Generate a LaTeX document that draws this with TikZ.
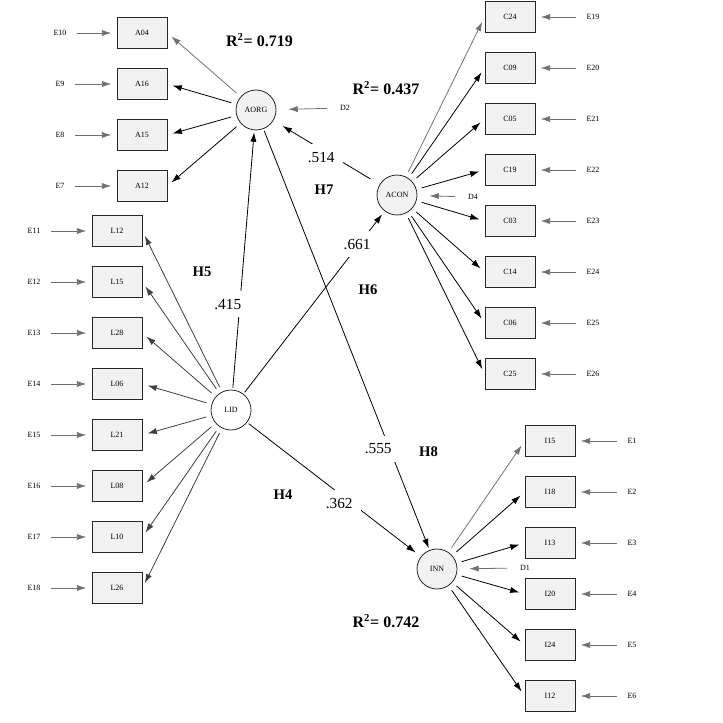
\documentclass[tikz,border=0pt]{standalone}
\usepackage{fontspec}
\setmainfont{Liberation Serif}
\usetikzlibrary{arrows.meta}
\definecolor{boxfill}{HTML}{F2F2F2}
\definecolor{errgray}{HTML}{707070}
\newcommand{\smallfont}{\fontsize{6}{7}\selectfont}
\newcommand{\coeffont}{\fontsize{11.5}{13}\selectfont}

\begin{document}
\begin{tikzpicture}[->, >={Latex[length=7pt,width=4.6pt]}, x=0.75pt, y=-0.75pt, node distance=38.25pt, line width=0.6pt,
  ind/.style={draw=black!85, fill=boxfill, minimum width=37.5pt, minimum height=23pt, inner sep=0pt, font=\smallfont},
  lat/.style={circle, draw=black!85, fill=boxfill, minimum size=30pt, inner sep=0pt, font=\smallfont},
  err/.style={font=\smallfont, inner sep=1pt},
  errline/.style={errgray, shorten <=6.5pt, shorten >=4pt},
  dline/.style={errgray, shorten <=8.5pt, shorten >=9pt},
  load/.style={shorten <=4pt, shorten >=4pt},
  firstload/.style={load, black!55},
  lidload/.style={load, black!75},
  struct/.style={shorten <=1.5pt, shorten >=1.5pt},
  coef/.style={fill=white, font=\coeffont, inner sep=6pt},
  hyp/.style={font=\fontsize{11}{13}\selectfont\bfseries},
  rsq/.style={font=\fontsize{12}{14}\selectfont\bfseries}]
%
\useasboundingbox (0,0) rectangle (723,723);
%
\node (AORG) [lat] at (256,110) {AORG};
\node (ACON) [lat] at (397,195) {ACON};
\node (LID) [lat, fill=white] at (231,410) {LID};
\node (INN) [lat] at (437,569) {INN};
%
\node (A04) [ind] at (142,33) {A04};
\node (A16) [ind, below of=A04] {A16};
\node (A15) [ind, below of=A16] {A15};
\node (A12) [ind, below of=A15] {A12};
%
\node (C24) [ind] at (510,17) {C24};
\node (C09) [ind, below of=C24] {C09};
\node (C05) [ind, below of=C09] {C05};
\node (C19) [ind, below of=C05] {C19};
\node (C03) [ind, below of=C19] {C03};
\node (C14) [ind, below of=C03] {C14};
\node (C06) [ind, below of=C14] {C06};
\node (C25) [ind, below of=C06] {C25};
%
\node (L12) [ind] at (117,231) {L12};
\node (L15) [ind, below of=L12] {L15};
\node (L28) [ind, below of=L15] {L28};
\node (L06) [ind, below of=L28] {L06};
\node (L21) [ind, below of=L06] {L21};
\node (L08) [ind, below of=L21] {L08};
\node (L10) [ind, below of=L08] {L10};
\node (L26) [ind, below of=L10] {L26};
%
\node (I15) [ind] at (550,441) {I15};
\node (I18) [ind, below of=I15] {I18};
\node (I13) [ind, below of=I18] {I13};
\node (I20) [ind, below of=I13] {I20};
\node (I24) [ind, below of=I20] {I24};
\node (I12) [ind, below of=I24] {I12};
%
\node (E10) [err, left of=A04, node distance=61.5pt] {E10};
\node (E9) [err, left of=A16, node distance=61.5pt] {E9};
\node (E8) [err, left of=A15, node distance=61.5pt] {E8};
\node (E7) [err, left of=A12, node distance=61.5pt] {E7};
\node (E11) [err, left of=L12, node distance=62.25pt] {E11};
\node (E12) [err, left of=L15, node distance=62.25pt] {E12};
\node (E13) [err, left of=L28, node distance=62.25pt] {E13};
\node (E14) [err, left of=L06, node distance=62.25pt] {E14};
\node (E15) [err, left of=L21, node distance=62.25pt] {E15};
\node (E16) [err, left of=L08, node distance=62.25pt] {E16};
\node (E17) [err, left of=L10, node distance=62.25pt] {E17};
\node (E18) [err, left of=L26, node distance=62.25pt] {E18};
\node (E19) [err, right of=C24, node distance=62.25pt] {E19};
\node (E20) [err, right of=C09, node distance=62.25pt] {E20};
\node (E21) [err, right of=C05, node distance=62.25pt] {E21};
\node (E22) [err, right of=C19, node distance=62.25pt] {E22};
\node (E23) [err, right of=C03, node distance=62.25pt] {E23};
\node (E24) [err, right of=C14, node distance=62.25pt] {E24};
\node (E25) [err, right of=C06, node distance=62.25pt] {E25};
\node (E26) [err, right of=C25, node distance=62.25pt] {E26};
\node (E1) [err, right of=I15, node distance=61.5pt] {E1};
\node (E2) [err, right of=I18, node distance=61.5pt] {E2};
\node (E3) [err, right of=I13, node distance=61.5pt] {E3};
\node (E4) [err, right of=I20, node distance=61.5pt] {E4};
\node (E5) [err, right of=I24, node distance=61.5pt] {E5};
\node (E6) [err, right of=I12, node distance=61.5pt] {E6};
%
\node (D2) [err] at (345,108) {D2};
\node (D4) [err] at (473,197) {D4};
\node (D1) [err] at (525,568) {D1};
%
\node (R2org) [rsq] at (259.5,40) {R\textsuperscript{2}= 0.719};
\node (R2con) [rsq] at (386,88) {R\textsuperscript{2}= 0.437};
\node (R2inn) [rsq] at (386,621) {R\textsuperscript{2}= 0.742};
\node (H4) [hyp] at (283,495) {H4};
\node (H5) [hyp] at (202,272) {H5};
\node (H6) [hyp] at (368,290) {H6};
\node (H7) [hyp] at (324,190) {H7};
\node (H8) [hyp] at (428.5,452) {H8};
%
\path (AORG) edge[firstload] (A04.east);
\path (AORG) edge[load] (A16.east);
\path (AORG) edge[load] (A15.east);
\path (AORG) edge[load] (A12.east);
\path (ACON) edge[firstload] (C24.west);
\path (ACON) edge[load] (C09.west);
\path (ACON) edge[load] (C05.west);
\path (ACON) edge[load] (C19.west);
\path (ACON) edge[load] (C03.west);
\path (ACON) edge[load] (C14.west);
\path (ACON) edge[load] (C06.west);
\path (ACON) edge[load] (C25.west);
\path (LID) edge[lidload] (L12.east);
\path (LID) edge[lidload] (L15.east);
\path (LID) edge[lidload] (L28.east);
\path (LID) edge[lidload] (L06.east);
\path (LID) edge[lidload] (L21.east);
\path (LID) edge[lidload] (L08.east);
\path (LID) edge[lidload] (L10.east);
\path (LID) edge[lidload] (L26.east);
\path (INN) edge[firstload] (I15.west);
\path (INN) edge[load] (I18.west);
\path (INN) edge[load] (I13.west);
\path (INN) edge[load] (I20.west);
\path (INN) edge[load] (I24.west);
\path (INN) edge[load] (I12.west);
%
\path (E10) edge[errline] (A04);
\path (E9) edge[errline] (A16);
\path (E8) edge[errline] (A15);
\path (E7) edge[errline] (A12);
\path (E11) edge[errline] (L12);
\path (E12) edge[errline] (L15);
\path (E13) edge[errline] (L28);
\path (E14) edge[errline] (L06);
\path (E15) edge[errline] (L21);
\path (E16) edge[errline] (L08);
\path (E17) edge[errline] (L10);
\path (E18) edge[errline] (L26);
\path (E19) edge[errline] (C24);
\path (E20) edge[errline] (C09);
\path (E21) edge[errline] (C05);
\path (E22) edge[errline] (C19);
\path (E23) edge[errline] (C03);
\path (E24) edge[errline] (C14);
\path (E25) edge[errline] (C06);
\path (E26) edge[errline] (C25);
\path (E1) edge[errline] (I15);
\path (E2) edge[errline] (I18);
\path (E3) edge[errline] (I13);
\path (E4) edge[errline] (I20);
\path (E5) edge[errline] (I24);
\path (E6) edge[errline] (I12);
\path (D2) edge[dline] (AORG);
\path (D4) edge[dline] (ACON);
\path (D1) edge[dline] (INN);
%
\path (LID) edge[struct] node[coef, pos=0.33, xshift=-9pt] {.415} (AORG);
\path (LID) edge[struct, shorten >=3pt] node[coef, pos=0.82, xshift=-1.5pt] {.661} (ACON);
\path (LID) edge[struct, shorten >=5pt] node[coef, pos=0.53, yshift=-7.5pt] {.362} (INN);
\path (AORG) edge[struct] node[coef, pos=0.76, xshift=-8.6pt] {.555} (INN);
\path (ACON) edge[struct, shorten <=8pt, shorten >=8pt] node[coef, pos=0.55, yshift=-6pt] {.514} (AORG);
\end{tikzpicture}
\end{document}
